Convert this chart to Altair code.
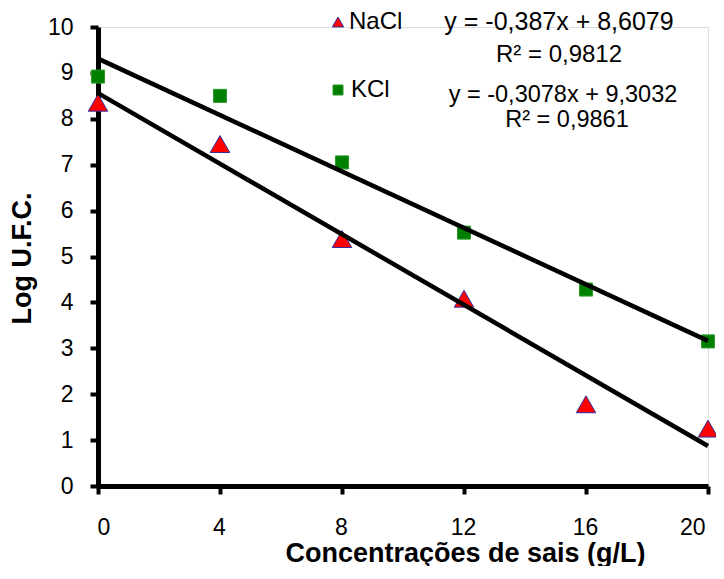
import altair as alt
import pandas as pd

conc = [0, 4, 8, 12, 16, 20]
nacl = [8.35, 7.45, 5.38, 4.08, 1.78, 1.25]
kcl = [8.92, 8.50, 7.05, 5.52, 4.28, 3.15]
salts = ["NaCl", "KCl"]
salt_fill = ["#ff0000", "#008000"]
salt_stroke = ["#3030a0", "#2a9a2a"]
salt_shape = ["triangle-up", "square"]
eq_lines = ["y = -0,387x + 8,6079", "R\u00b2 = 0,9812", "y = -0,3078x + 9,3032", "R\u00b2 = 0,9861"]

df = pd.DataFrame({
    "x": conc * 2,
    "y": nacl + kcl,
    "salt": ["NaCl"] * len(conc) + ["KCl"] * len(conc),
})

FONT = "Liberation Sans"

xscale = alt.Scale(domain=[0, 20], nice=False, zero=False)
yscale = alt.Scale(domain=[0, 10], nice=False)

xaxis = alt.Axis(values=[0, 4, 8, 12, 16, 20], title="Concentrações de sais (g/L)", grid=False,
                 domainColor="black", domainWidth=5, tickColor="black", tickWidth=4, tickSize=8,
                 labelFontSize=23, labelFont=FONT, labelColor="black", labelPadding=22,
                 labelOffset={"condition": {"test": "datum.value == 20", "value": -3}, "value": -1},
                 titleFontSize=27, titleFont=FONT, titleFontWeight="bold",
                 titleColor="black", titleX=367, titleY=75, titleBaseline="alphabetic", titleAnchor="middle")
yaxis = alt.Axis(values=list(range(0, 11)), title="Log U.F.C.", grid=False,
                 domainColor="black", domainWidth=5, tickColor="black", tickWidth=4, tickSize=8,
                 labelFontSize=23, labelFont=FONT, labelColor="black", labelPadding=17,
                 titleFontSize=27, titleFont=FONT, titleFontWeight="bold", titleColor="black",
                 titleX=-76, titleY=231, titleBaseline="middle", titleAngle=270, titleAnchor="middle")

points = alt.Chart(df).mark_point(filled=True, opacity=1, strokeWidth=1).encode(
    x=alt.X("x:Q", scale=xscale, axis=xaxis),
    y=alt.Y("y:Q", scale=yscale, axis=yaxis),
    shape=alt.Shape("salt:N", scale=alt.Scale(domain=salts, range=salt_shape), legend=None),
    fill=alt.Fill("salt:N", scale=alt.Scale(domain=salts, range=salt_fill), legend=None),
    stroke=alt.Stroke("salt:N", scale=alt.Scale(domain=salts, range=salt_stroke), legend=None),
    size=alt.Size("salt:N", scale=alt.Scale(domain=salts, range=[380, 170]), legend=None),
)

lines = alt.Chart(df).transform_regression("x", "y", groupby=["salt"]).mark_line(
    color="black", strokeWidth=4.5
).encode(
    x=alt.X("x:Q", scale=xscale),
    y=alt.Y("y:Q", scale=yscale),
    detail="salt:N",
)

def txt(s, x, y, align="center", size=24):
    return alt.Chart(pd.DataFrame({"t": [s]})).mark_text(
        fontSize=size, font=FONT, color="black", align=align, baseline="middle"
    ).encode(text="t:N", x=alt.value(x), y=alt.value(y))

def sym(i, x, y, size):
    return alt.Chart(pd.DataFrame({"s": [salts[i]]})).mark_point(
        filled=True, opacity=1, strokeWidth=1, shape=salt_shape[i],
        fill=salt_fill[i], stroke=salt_stroke[i], size=size
    ).encode(x=alt.value(x), y=alt.value(y))

legend = [sym(0, 240, -5, 130), txt(salts[0], 251, -5, "left", 24),
          sym(1, 240, 63, 100), txt(salts[1], 253, 63, "left", 24)]

texts = [txt(eq_lines[0], 461, -5, size=25), txt(eq_lines[1], 461, 28, size=24),
         txt(eq_lines[2], 465, 68, size=23.5), txt(eq_lines[3], 469, 92.5, size=23.5)]

chart = alt.layer(points, lines, *legend, *texts).properties(
    width=610, height=459,
    autosize=alt.AutoSizeParams(type="none"),
    padding={"left": 90, "top": 19, "right": 8, "bottom": 80},
).configure_view(stroke=None).configure(background="white")

chart.save("out.html", embed_options={"renderer": "svg", "actions": False})
